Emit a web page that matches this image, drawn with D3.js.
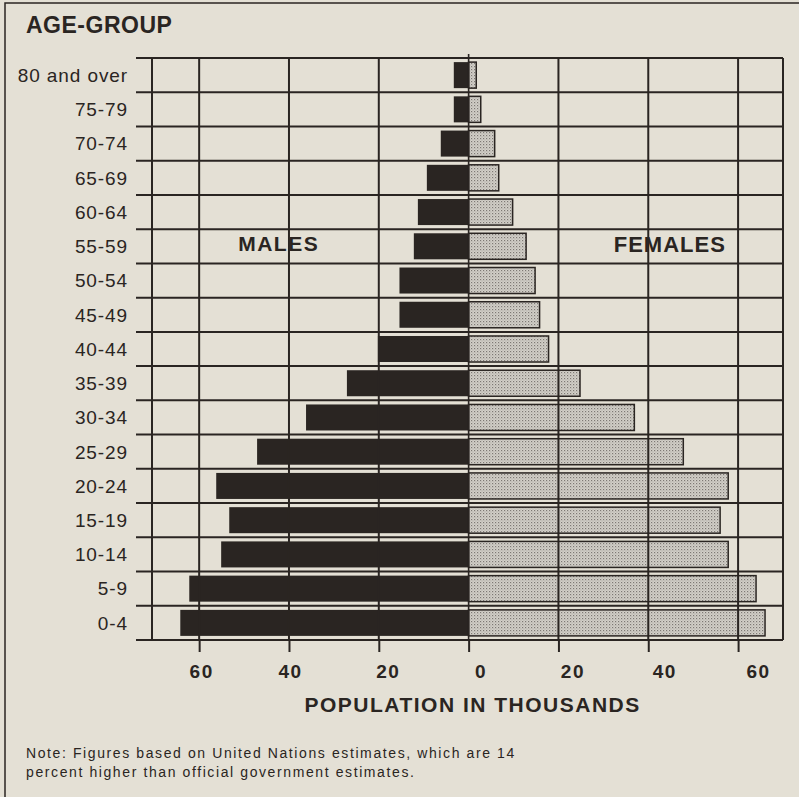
<!DOCTYPE html>
<html>
<head>
<meta charset="utf-8">
<script src="https://cdn.jsdelivr.net/npm/d3@7"></script>
<style>
  html, body { margin: 0; padding: 0; background: #e4e0d5; }
  svg { display: block; }
  text { font-family: "Liberation Sans", Arial, Helvetica, sans-serif; fill: #2a2522; }
</style>
</head>
<body>
<svg id="chart" width="799" height="797"></svg>
<script>
// ---- Data ----
const ageGroups = ["80 and over","75-79","70-74","65-69","60-64","55-59","50-54","45-49",
                   "40-44","35-39","30-34","25-29","20-24","15-19","10-14","5-9","0-4"];
const males   = [3.3, 3.3, 6.2, 9.3, 11.3, 12.2, 15.4, 15.4, 20.2, 27.1, 36.2, 47.1, 56.2, 53.3, 55.1, 62.2, 64.2];
const females = [1.7, 2.7, 5.8, 6.7, 9.8, 12.8, 14.8, 15.8, 17.8, 24.8, 36.9, 47.8, 57.8, 56.0, 57.8, 64.0, 66.0];
const tickValues = [-60, -40, -20, 0, 20, 40, 60];
const titleText = "AGE-GROUP";
const axisTitle = "POPULATION IN THOUSANDS";
const maleLabel = "MALES";
const femaleLabel = "FEMALES";
const noteLines = ["Note: Figures based on United Nations estimates, which are 14",
                   "percent higher than official government estimates."];

// ---- Layout ----
const ink = "#2a2522";
const svg = d3.select("#chart");
const plot = { left: 152, right: 783, top: 58, bottom: 640 };

const x = d3.scaleLinear().domain([-70.5, 70]).range([plot.left, plot.right]);
const y = d3.scaleBand().domain(ageGroups).range([plot.top, plot.bottom]).padding(0);
const barPad = 0.12;

// frame (only top and left visible in reference)
svg.append("rect").attr("x", 5).attr("y", 3).attr("width", 820).attr("height", 820)
  .attr("fill", "none").attr("stroke", ink).attr("stroke-width", 1.5);

// stipple pattern for females
const defs = svg.append("defs");
const pat = defs.append("pattern").attr("id", "stip").attr("patternUnits", "userSpaceOnUse")
  .attr("width", 3).attr("height", 3);
pat.append("rect").attr("width", 3).attr("height", 3).attr("fill", "#d3d0c9");
pat.append("rect").attr("x", 0).attr("y", 0).attr("width", 1.2).attr("height", 1.2).attr("fill", "#7d7974");
pat.append("rect").attr("x", 1.5).attr("y", 1.5).attr("width", 1).attr("height", 1).attr("fill", "#a29e98");

// bars
const rows = ageGroups.map((g, i) => ({ g, m: males[i], f: females[i] }));
const bh = y.bandwidth() * (1 - 2 * barPad);

svg.append("g").selectAll("rect").data(rows).join("rect")
  .attr("x", d => x(-d.m)).attr("width", d => x(0) - x(-d.m))
  .attr("y", d => y(d.g) + y.bandwidth() * barPad).attr("height", bh)
  .attr("fill", ink);

svg.append("g").selectAll("rect").data(rows).join("rect")
  .attr("x", x(0)).attr("width", d => x(d.f) - x(0))
  .attr("y", d => y(d.g) + y.bandwidth() * barPad).attr("height", bh)
  .attr("fill", "url(#stip)").attr("stroke", ink).attr("stroke-width", 1.5);

// horizontal grid lines (row boundaries) with left tick extension
const bounds = ageGroups.map(g => y(g)).concat([y.range()[1]]);
svg.append("g").selectAll("line").data(bounds).join("line")
  .attr("x1", plot.left - 16).attr("x2", plot.right)
  .attr("y1", d => d).attr("y2", d => d)
  .attr("stroke", ink).attr("stroke-width", 2);

// plot side borders
svg.append("g").selectAll("line").data([plot.left, plot.right]).join("line")
  .attr("x1", d => d).attr("x2", d => d).attr("y1", plot.top).attr("y2", plot.bottom)
  .attr("stroke", ink).attr("stroke-width", 2);

// vertical gridlines
svg.append("g").selectAll("line").data(tickValues).join("line")
  .attr("x1", d => x(d)).attr("x2", d => x(d))
  .attr("y1", d => d === 0 ? plot.top - 4 : plot.top).attr("y2", plot.bottom)
  .attr("stroke", ink).attr("stroke-width", d => d === 0 ? 1.6 : 2);

// bottom axis
const nudge = { "-60": 2, "-40": 1, "-20": 9, "0": 12, "20": 14, "40": 16, "60": 20 };
const ax = svg.append("g").attr("transform", `translate(0,${plot.bottom})`)
  .call(d3.axisBottom(x).tickValues(tickValues).tickSize(12).tickFormat(d => Math.abs(d)));
ax.select(".domain").remove();
ax.selectAll(".tick line").attr("stroke", ink).attr("stroke-width", 2);
ax.selectAll(".tick text")
  .attr("y", 25).attr("dx", d => nudge[String(d)])
  .style("font-size", "19px").style("font-weight", "bold").style("letter-spacing", "1.5px")
  .style("font-family", "'Liberation Sans', Arial, sans-serif").attr("fill", ink);

// left category labels
svg.append("g").selectAll("text").data(ageGroups).join("text")
  .attr("x", 128).attr("y", d => y(d) + y.bandwidth() / 2)
  .attr("dy", "0.36em").attr("text-anchor", "end")
  .style("font-size", "19px").style("letter-spacing", "0.9px")
  .text(d => d);

// titles
svg.append("text").attr("x", 26).attr("y", 33)
  .style("font-size", "23px").style("font-weight", "bold").style("letter-spacing", "0.5px")
  .text(titleText);

svg.append("text").attr("x", x(-42.3)).attr("y", 251).attr("text-anchor", "middle")
  .style("font-size", "21px").style("font-weight", "bold").style("letter-spacing", "1.5px")
  .text(maleLabel);
svg.append("text").attr("x", x(44.8)).attr("y", 252).attr("text-anchor", "middle")
  .style("font-size", "22px").style("font-weight", "bold").style("letter-spacing", "1px")
  .text(femaleLabel);

svg.append("text").attr("x", x(0) + 4).attr("y", 712).attr("text-anchor", "middle")
  .style("font-size", "21px").style("font-weight", "bold").style("letter-spacing", "1.5px")
  .text(axisTitle);

// note
svg.append("g").selectAll("text").data(noteLines).join("text")
  .attr("x", 26).attr("y", (d, i) => 758 + i * 19)
  .style("font-size", "14px").style("letter-spacing", "1.6px")
  .text(d => d);
</script>
</body>
</html>
